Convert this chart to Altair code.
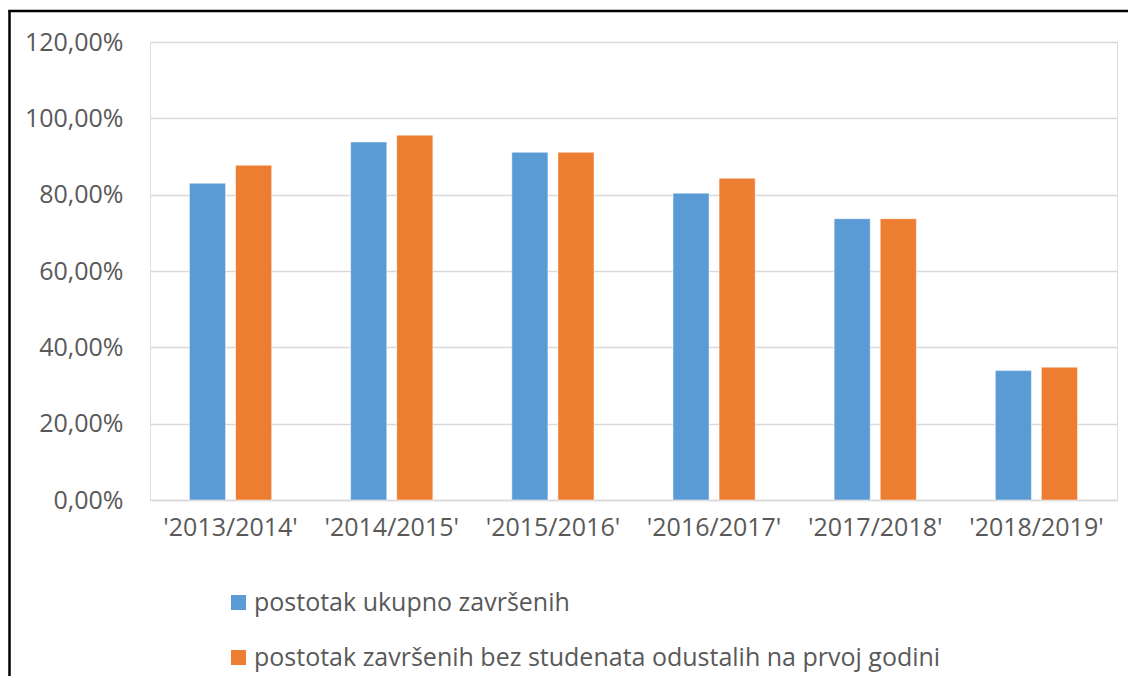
import altair as alt
import pandas as pd

years = ["'2013/2014'", "'2014/2015'", "'2015/2016'", "'2016/2017'", "'2017/2018'", "'2018/2019'"]
series_names = ["postotak ukupno završenih",
                "postotak završenih bez studenata odustalih na prvoj godini"]
ukupno = [83.0, 93.8, 91.1, 80.4, 73.7, 33.9]
bez_odustalih = [87.7, 95.6, 91.1, 84.3, 73.7, 34.8]
colors = ["#5B9BD5", "#ED7D31"]

rows = []
for i, y in enumerate(years):
    rows.append({"godina": y, "serija": series_names[0], "vrijednost": ukupno[i]})
    rows.append({"godina": y, "serija": series_names[1], "vrijednost": bez_odustalih[i]})
df = pd.DataFrame(rows)

FONT = "Open Sans"
TXT = "#595959"

bars = alt.Chart(df).mark_bar(stroke="white", strokeWidth=0.8, strokeOpacity=0.6).encode(
    x=alt.X("godina:N", sort=years, title=None,
            scale=alt.Scale(paddingInner=0.49, paddingOuter=0.245),
            axis=alt.Axis(labelAngle=0, labelFont=FONT, labelFontSize=25, labelColor=TXT,
                          labelPadding=15, ticks=False, domainColor="#d9d9d9", domainWidth=1.5,
                          grid=False)),
    xOffset=alt.XOffset("serija:N", sort=series_names,
                        scale=alt.Scale(paddingInner=0.217, paddingOuter=0)),
    y=alt.Y("vrijednost:Q", title=None,
            scale=alt.Scale(domain=[0, 120], nice=False),
            axis=alt.Axis(values=[0, 20, 40, 60, 80, 100, 120],
                          labelExpr="replace(format(datum.value, '.2f'), '.', ',') + '%'",
                          labelFont=FONT, labelFontSize=25, labelColor=TXT, labelPadding=27,
                          ticks=False, domain=False, gridColor="#d9d9d9", gridWidth=1.5)),
    color=alt.Color("serija:N", sort=series_names,
                    scale=alt.Scale(domain=series_names, range=colors),
                    legend=alt.Legend(title=None, orient="none", direction="vertical",
                                      legendX=76, legendY=548, symbolType="square",
                                      symbolSize=225, symbolStrokeWidth=0,
                                      labelFont=FONT, labelFontSize=25, labelColor=TXT,
                                      labelOffset=3, rowPadding=29, padding=0,
                                      labelLimit=900)),
)

frame_df = pd.DataFrame({"a": [0]})
top_line = alt.Chart(frame_df).mark_rule(color="black", strokeWidth=2.5, clip=False).encode(
    x=alt.value(-141.5), x2=alt.value(1000), y=alt.value(-31)
)
left_line = alt.Chart(frame_df).mark_rule(color="black", strokeWidth=2.5, clip=False).encode(
    x=alt.value(-140.5), y=alt.value(-32), y2=alt.value(700)
)

chart = alt.layer(bars, top_line, left_line).properties(
    width=967, height=458,
    autosize=alt.AutoSizeParams(type="none"),
    padding={"left": 142, "top": 34, "right": 11, "bottom": 176},
).configure_view(stroke=None).configure(background="white")

chart.save("out.html", embed_options={"renderer": "svg", "actions": False})
